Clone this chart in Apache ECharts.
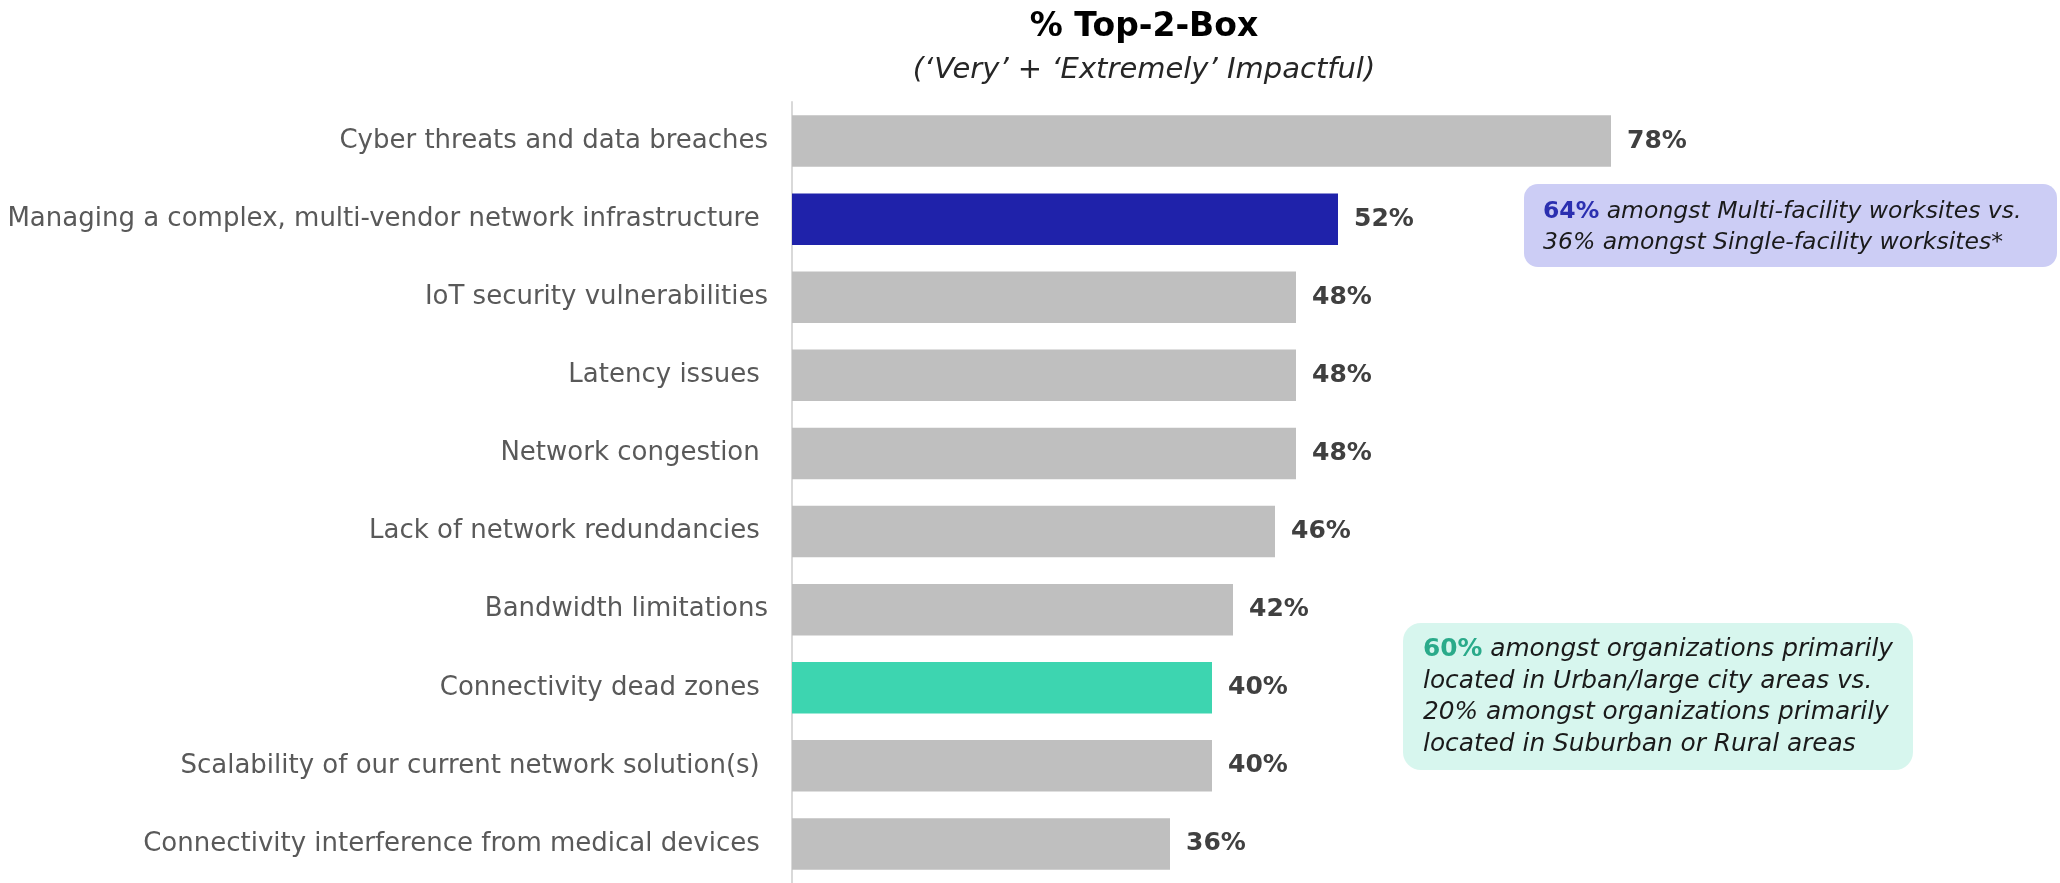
<!DOCTYPE html>
<html>
<head>
<meta charset="utf-8">
<script src="https://cdn.jsdelivr.net/npm/echarts@6/dist/echarts.min.js"></script>
<style>
html,body{margin:0;padding:0;background:#fff;}
#chart{width:2060px;height:883px;}
</style>
</head>
<body>
<div id="chart"></div>
<script>
const categories = [
  'Cyber threats and data breaches',
  'Managing a complex, multi-vendor network infrastructure ',
  'IoT security vulnerabilities',
  'Latency issues ',
  'Network congestion ',
  'Lack of network redundancies ',
  'Bandwidth limitations',
  'Connectivity dead zones ',
  'Scalability of our current network solution(s) ',
  'Connectivity interference from medical devices '
];
const values = [78, 52, 48, 48, 48, 46, 42, 40, 40, 36];
const titleText = '% Top-2-Box';
const subtitleText = '(\u2018Very\u2019 + \u2018Extremely\u2019 Impactful)';
const note1 = ['{b|64%} amongst Multi-facility worksites vs.', '36% amongst Single-facility worksites*'];
const note2 = ['{g|60%} amongst organizations primarily', 'located in Urban/large city areas vs.', '20% amongst organizations primarily', 'located in Suburban or Rural areas'];

const FONT = 'DejaVu Sans';
const highlight = {1: '#1f22aa', 7: '#3dd5b0'};

const chart = echarts.init(document.getElementById('chart'));
chart.setOption({
  animation: false,
  backgroundColor: '#ffffff',
  title: [
    {text: titleText, left: 1139, top: 6, textAlign: 'center',
     textStyle: {fontFamily: FONT, fontSize: 33, fontWeight: 'bold', color: '#000000'}},
    {text: subtitleText, left: 1139, top: 51, textAlign: 'center',
     textStyle: {fontFamily: FONT, fontSize: 29, fontStyle: 'italic', fontWeight: 'normal', color: '#262626'}}
  ],
  grid: {left: 792, top: 102, width: 1050, height: 787, containLabel: false},
  xAxis: {type: 'value', min: 0, max: 100, show: false},
  yAxis: {
    type: 'category', data: categories, inverse: true,
    axisLine: {show: true, lineStyle: {color: '#d9d9d9', width: 2}},
    axisTick: {show: false},
    axisLabel: {margin: 24, fontFamily: FONT, fontSize: 26, color: '#595959'}
  },
  series: [{
    type: 'bar',
    data: values.map((v, i) => ({value: v, itemStyle: {color: highlight[i] || '#bfbfbf'}})),
    barCategoryGap: '34%',
    label: {show: true, position: 'right', distance: 16, formatter: '{c}%',
            fontFamily: FONT, fontSize: 25, fontWeight: 'bold', color: '#404040'}
  }],
  graphic: [
    {type: 'rect', left: 1524, top: 184, shape: {width: 533, height: 83, r: 14},
     style: {fill: '#cccdf5'}},
    {type: 'text', left: 1543, top: 196,
     style: {text: note1.join('\n'), fontFamily: FONT, fontSize: 23.5, fontStyle: 'italic',
             fill: '#1a1a1a', lineHeight: 31.5,
             rich: {b: {fontFamily: FONT, fontSize: 23.5, fontWeight: 'bold', fontStyle: 'normal', fill: '#2b2fb0', lineHeight: 31.5}}}},
    {type: 'rect', left: 1403, top: 623, shape: {width: 510, height: 147, r: 18},
     style: {fill: '#d7f6ee'}},
    {type: 'text', left: 1423, top: 634,
     style: {text: note2.join('\n'), fontFamily: FONT, fontSize: 24.8, fontStyle: 'italic',
             fill: '#1a1a1a', lineHeight: 31.5,
             rich: {g: {fontFamily: FONT, fontSize: 24.8, fontWeight: 'bold', fontStyle: 'normal', fill: '#2aaa8a', lineHeight: 31.5}}}}
  ]
});
</script>
</body>
</html>
